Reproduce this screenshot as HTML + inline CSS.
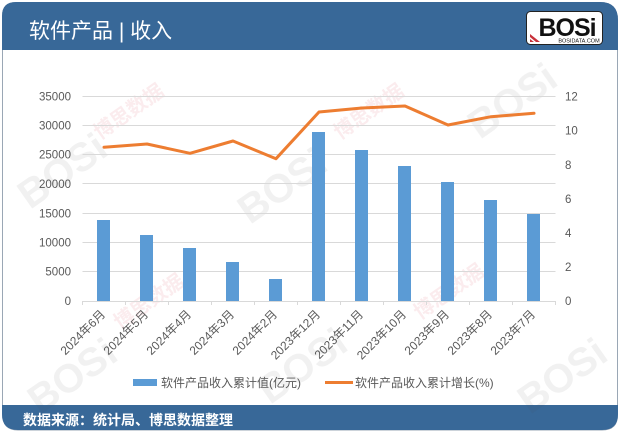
<!DOCTYPE html>
<html><head><meta charset="utf-8"><style>
html,body{margin:0;padding:0;background:#fff;width:620px;height:435px;overflow:hidden;}
svg{display:block;}
</style></head><body>
<svg width="620" height="435" viewBox="0 0 620 435" xmlns="http://www.w3.org/2000/svg" font-family="'Liberation Sans','Noto Sans CJK SC',sans-serif">
<!-- card frame -->
<path d="M2.5,16 Q2.5,2.5 16,2.5 L600,2.5 Q617.5,2.5 617.5,20 L617.5,415 Q617.5,430 602,430 L18,430 Q2.5,430 2.5,414 Z" fill="#fff" stroke="#9aa7b5" stroke-width="1"/>
<!-- header -->
<path d="M2,16 Q2,2 16,2 L600,2 Q618,2 618,20 L618,50 L2,50 Z" fill="#386898"/>
<text x="29" y="38" font-size="21" fill="#fff">软件产品 | 收入</text>
<!-- logo -->
<rect x="526.5" y="11.5" width="76" height="33" rx="4" fill="#fff" stroke="#222" stroke-width="1"/>
<text x="567" y="36" font-size="25" font-weight="bold" fill="#111" text-anchor="middle" letter-spacing="-1">BOSi</text>
<text x="579" y="42.5" font-size="5.5" fill="#111" text-anchor="middle">BOSIDATA.COM</text>
<path d="M530,34 L540,42 L536,42 L530,37 Z" fill="#c8313a"/>
<path d="M530,39 L534,42 L530,42 Z" fill="#c8313a"/>
<!-- footer -->
<path d="M2,405 L618,405 L618,414 Q618,430 602,430 L18,430 Q2,430 2,414 Z" fill="#386898"/>
<text x="23" y="425" font-size="14" font-weight="bold" fill="#fff">数据来源：统计局、博思数据整理</text>

<!-- watermarks -->
<g opacity="0.08" font-weight="bold" fill="#555">
<text x="0" y="0" font-size="40" transform="translate(30,210) rotate(-35)">BOSi</text>
<text x="0" y="0" font-size="40" transform="translate(250,225) rotate(-35)">BOSi</text>
<text x="0" y="0" font-size="40" transform="translate(480,140) rotate(-35)">BOSi</text>
<text x="0" y="0" font-size="40" transform="translate(40,415) rotate(-35)">BOSi</text>
<text x="0" y="0" font-size="40" transform="translate(270,405) rotate(-35)">BOSi</text>
<text x="0" y="0" font-size="40" transform="translate(530,415) rotate(-35)">BOSi</text>
</g>
<g opacity="0.1" fill="#d04050" font-size="20" font-weight="bold">
<text transform="translate(100,140) rotate(-35)">博思数据</text>
<text transform="translate(340,140) rotate(-35)">博思数据</text>
<text transform="translate(120,330) rotate(-35)">博思数据</text>
<text transform="translate(420,320) rotate(-35)">博思数据</text>
</g>

<!-- gridlines -->
<g stroke="#d9d9d9" stroke-width="1">
<line x1="82.5" x2="555.5" y1="96.5" y2="96.5"/>
<line x1="82.5" x2="555.5" y1="125.5" y2="125.5"/>
<line x1="82.5" x2="555.5" y1="154.5" y2="154.5"/>
<line x1="82.5" x2="555.5" y1="183.5" y2="183.5"/>
<line x1="82.5" x2="555.5" y1="213.5" y2="213.5"/>
<line x1="82.5" x2="555.5" y1="242.5" y2="242.5"/>
<line x1="82.5" x2="555.5" y1="271.5" y2="271.5"/>
</g>
<!-- left axis labels -->
<g font-size="11.5" fill="#595959" text-anchor="end">
<text x="71" y="100.5">35000</text>
<text x="71" y="129.5">30000</text>
<text x="71" y="158.5">25000</text>
<text x="71" y="188">20000</text>
<text x="71" y="217.5">15000</text>
<text x="71" y="246.5">10000</text>
<text x="71" y="275.5">5000</text>
<text x="71" y="305">0</text>
</g>
<!-- right axis labels -->
<g font-size="11.5" fill="#595959">
<text x="565" y="100.5">12</text>
<text x="565" y="134.5">10</text>
<text x="565" y="169">8</text>
<text x="565" y="203">6</text>
<text x="565" y="237">4</text>
<text x="565" y="271">2</text>
<text x="565" y="305">0</text>
</g>
<!-- bars -->
<g fill="#5b9bd5">
<rect x="97" y="220" width="13" height="81"/>
<rect x="140" y="235" width="13" height="66"/>
<rect x="183" y="248" width="13" height="53"/>
<rect x="226" y="262" width="13" height="39"/>
<rect x="269" y="279" width="13" height="22"/>
<rect x="312" y="132" width="13" height="169"/>
<rect x="355" y="150" width="13" height="151"/>
<rect x="398" y="166" width="13" height="135"/>
<rect x="441" y="182" width="13" height="119"/>
<rect x="484" y="200" width="13" height="101"/>
<rect x="527" y="214" width="13" height="87"/>
</g>
<!-- x axis -->
<line x1="82.5" x2="555.5" y1="301.5" y2="301.5" stroke="#d9d9d9" stroke-width="1"/>
<g stroke="#d9d9d9" stroke-width="1">
<line x1="82.5" x2="82.5" y1="301" y2="305"/>
<line x1="125.5" x2="125.5" y1="301" y2="305"/>
<line x1="168.5" x2="168.5" y1="301" y2="305"/>
<line x1="211.5" x2="211.5" y1="301" y2="305"/>
<line x1="254.5" x2="254.5" y1="301" y2="305"/>
<line x1="297.5" x2="297.5" y1="301" y2="305"/>
<line x1="340.5" x2="340.5" y1="301" y2="305"/>
<line x1="383.5" x2="383.5" y1="301" y2="305"/>
<line x1="426.5" x2="426.5" y1="301" y2="305"/>
<line x1="469.5" x2="469.5" y1="301" y2="305"/>
<line x1="512.5" x2="512.5" y1="301" y2="305"/>
<line x1="555.5" x2="555.5" y1="301" y2="305"/>
</g>
<!-- line series -->
<polyline fill="none" stroke="#ed7d31" stroke-width="3" stroke-linejoin="round" stroke-linecap="round"
points="104,147.3 147,144 190,153.3 233,141 276,158.7 319,112 362,108 405,106 448,125 491,116.7 534,113.3"/>
<!-- x labels -->
<g font-size="12" fill="#595959" text-anchor="end">
<text transform="translate(106,315) rotate(-45)">2024年6月</text>
<text transform="translate(149,315) rotate(-45)">2024年5月</text>
<text transform="translate(192,315) rotate(-45)">2024年4月</text>
<text transform="translate(235,315) rotate(-45)">2024年3月</text>
<text transform="translate(278,315) rotate(-45)">2024年2月</text>
<text transform="translate(321,315) rotate(-45)">2023年12月</text>
<text transform="translate(364,315) rotate(-45)">2023年11月</text>
<text transform="translate(407,315) rotate(-45)">2023年10月</text>
<text transform="translate(450,315) rotate(-45)">2023年9月</text>
<text transform="translate(493,315) rotate(-45)">2023年8月</text>
<text transform="translate(536,315) rotate(-45)">2023年7月</text>
</g>
<!-- legend -->
<rect x="133" y="379" width="24" height="7" fill="#5b9bd5"/>
<text x="161" y="387" font-size="12" fill="#595959">软件产品收入累计值(亿元)</text>
<line x1="325" x2="353" y1="382.5" y2="382.5" stroke="#ed7d31" stroke-width="3"/>
<text x="355" y="387" font-size="12" fill="#595959">软件产品收入累计增长(%)</text>
</svg>
</body></html>
